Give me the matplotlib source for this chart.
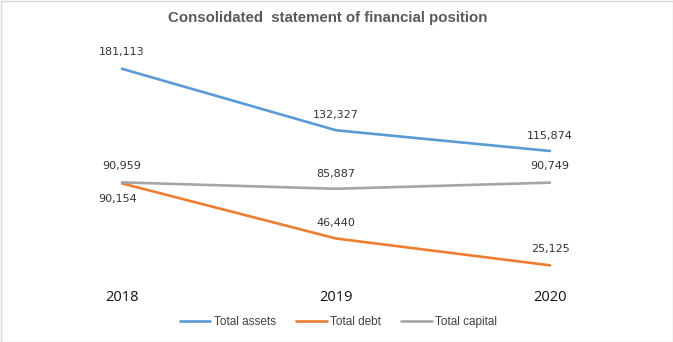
import matplotlib
matplotlib.use("Agg")
import matplotlib.pyplot as plt
from matplotlib.patches import Rectangle

years = ["2018", "2019", "2020"]
total_assets = [181113, 132327, 115874]
total_debt = [90154, 46440, 25125]
total_capital = [90959, 85887, 90749]

# label offsets in points (dx, dy) for each series
assets_off = [(0, 12), (0, 11), (0, 11)]
debt_off = [(-3, -11), (0, 11), (0, 12)]
capital_off = [(0, 12), (0, 11), (0, 12)]

plt.rcParams['font.family'] = ['DejaVu Sans']

fig = plt.figure(figsize=(6.73, 3.42), dpi=100)
ax = fig.add_axes([15 / 673, 1 - 297 / 342, 642 / 673, 252 / 342])

x = list(range(len(years)))
series = [
    (total_assets, "Total assets", "#5B9BD5", assets_off),
    (total_debt, "Total debt", "#ED7D31", debt_off),
    (total_capital, "Total capital", "#A5A5A5", capital_off),
]
lines = []
for vals, name, col, offs in series:
    ln, = ax.plot(x, vals, color=col, lw=1.9, solid_capstyle="round", label=name)
    lines.append(ln)
    for xi, v, (dx, dy) in zip(x, vals, offs):
        ax.annotate(f"{v:,}", (xi, v), xytext=(dx, dy), textcoords="offset points",
                    ha="center", va="center", fontsize=8, color="#333333")

ax.set_xlim(-0.5, 2.5)
ax.set_ylim(0, 200000)
ax.axis("off")

for xi, yr in zip(x, years):
    ax.text(xi, -500, yr, ha="center", va="center", fontsize=10.5,
            family="Open Sans", color="#111111")

fig.text(328 / 673, 1 - 18 / 342, "Consolidated  statement of financial position",
         ha="center", va="center", fontsize=10.8, fontweight="bold",
         family="Liberation Sans", color="#595959")

fig.legend(handles=lines, loc="center", bbox_to_anchor=(0.503, 1 - 322 / 342),
           ncol=3, frameon=False, handlelength=2.6, columnspacing=1.7,
           handletextpad=0.3, labelcolor="#404040",
           prop={"family": "Liberation Sans", "size": 8.5})

fig.patches.append(Rectangle((0.5 / 673, 0.5 / 342), 1 - 1 / 673, 1 - 1 / 342,
                             transform=fig.transFigure, fill=False,
                             edgecolor="#D9D9D9", lw=1))

fig.savefig("out.png", dpi=100)
